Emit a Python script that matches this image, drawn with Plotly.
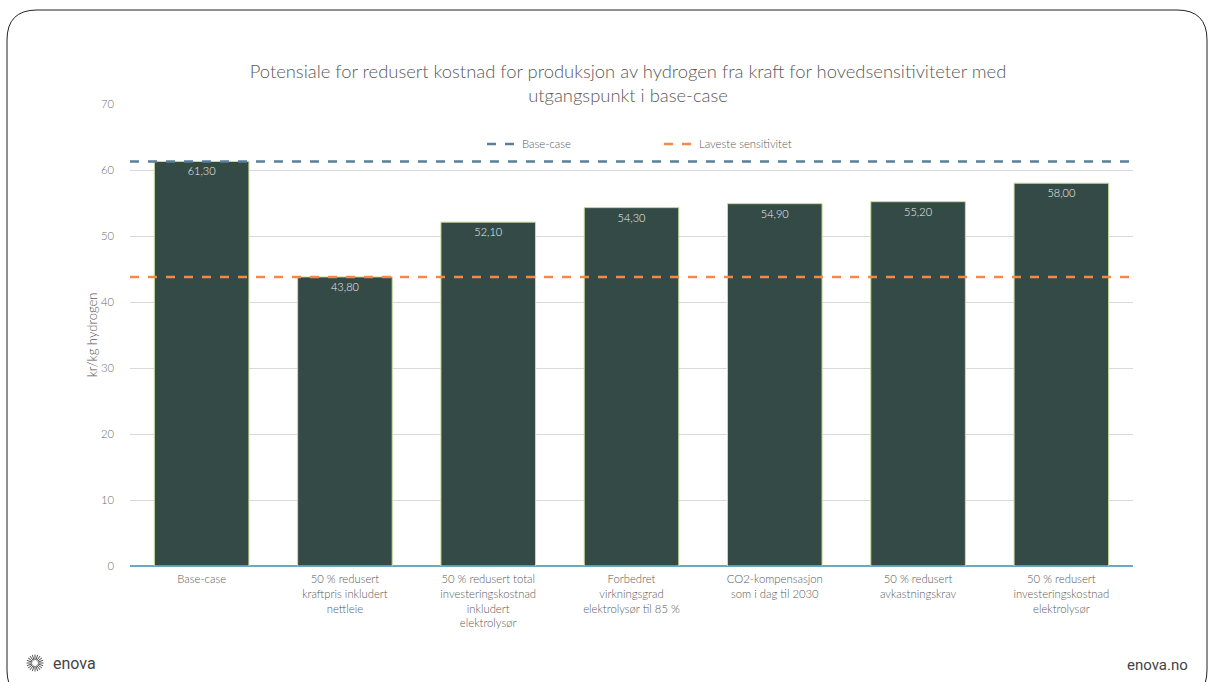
import plotly.graph_objects as go
import math

categories = [
    "Base-case",
    "50 % redusert<br>kraftpris inkludert<br>nettleie",
    "50 % redusert total<br>investeringskostnad<br>inkludert<br>elektrolysør",
    "Forbedret<br>virkningsgrad<br>elektrolysør til 85 %",
    "CO2-kompensasjon<br>som i dag til 2030",
    "50 % redusert<br>avkastningskrav",
    "50 % redusert<br>investeringskostnad<br>elektrolysør",
]
values = [61.30, 43.80, 52.10, 54.30, 54.90, 55.20, 58.00]
base_case = 61.30
lowest = 43.80
y_ticks = [0, 10, 20, 30, 40, 50, 60, 70]

W, H = 1210, 682
L, R, T, B = 130, 77, 104, 116
PW, PH = W - L - R, H - T - B

def px(x):
    return (x - L) / PW

def py(y):
    return (H - B - y) / PH

FONT = "Lato"
GRAY = "#595959"
LIGHT = 300

xs = list(range(len(categories)))
labels = [f"{v:.2f}".replace(".", ",") for v in values]

fig = go.Figure()
fig.add_trace(go.Bar(
    x=xs, y=values, text=labels, textposition="inside", insidetextanchor="end",
    textfont=dict(color="#f0f0f0", size=11, family=FONT, weight=LIGHT),
    marker=dict(color="#344a47", line=dict(color="#c5dc9a", width=1)),
    showlegend=False, hoverinfo="skip",
))
n = len(categories)
fig.add_trace(go.Scatter(
    x=[-0.5, n - 0.5], y=[base_case, base_case], mode="lines", name="Base-case",
    line=dict(color="#5a7f96", width=2.5, dash="dash"),
))
fig.add_trace(go.Scatter(
    x=[-0.5, n - 0.5], y=[lowest, lowest], mode="lines", name="Laveste sensitivitet",
    line=dict(color="#ef8a4c", width=2.5, dash="dash"),
))

# decorative frame and footer logo
shapes = []
x0, y0, x1, y1, r = 7, 10, 1207, 700, 30
path = (f"M {px(x0+r)},{py(y0)} L {px(x1-r)},{py(y0)} "
        f"Q {px(x1)},{py(y0)} {px(x1)},{py(y0+r)} L {px(x1)},{py(y1-r)} "
        f"Q {px(x1)},{py(y1)} {px(x1-r)},{py(y1)} L {px(x0+r)},{py(y1)} "
        f"Q {px(x0)},{py(y1)} {px(x0)},{py(y1-r)} L {px(x0)},{py(y0+r)} "
        f"Q {px(x0)},{py(y0)} {px(x0+r)},{py(y0)} Z")
shapes.append(dict(type="path", xref="paper", yref="paper", path=path,
                   line=dict(color="#222222", width=1), layer="below"))
cx, cy = 35, 663
for k in range(20):
    a = 2 * math.pi * k / 20
    r0, r1 = 3, 8.5
    shapes.append(dict(type="line", xref="paper", yref="paper",
                       x0=px(cx + r0 * math.cos(a)), y0=py(cy + r0 * math.sin(a)),
                       x1=px(cx + r1 * math.cos(a)), y1=py(cy + r1 * math.sin(a)),
                       line=dict(color="#555555", width=1)))

annotations = [
    dict(text="enova", xref="paper", yref="paper", x=px(51), y=py(663),
         xanchor="left", yanchor="middle", showarrow=False,
         font=dict(family="Roboto", size=16, color="#444444", weight=400)),
    dict(text="enova.no", xref="paper", yref="paper", x=px(1190), y=py(665),
         xanchor="right", yanchor="middle", showarrow=False,
         font=dict(family="Roboto", size=15, color="#444444", weight=400)),
]

fig.update_layout(
    width=W, height=H,
    margin=dict(l=L, r=R, t=T, b=B, autoexpand=False),
    paper_bgcolor="white", plot_bgcolor="white",
    font=dict(family=FONT, color=GRAY, size=11, weight=LIGHT),
    title=dict(text="Potensiale for redusert kostnad for produksjon av hydrogen fra kraft for hovedsensitiviteter med<br>utgangspunkt i base-case",
               xref="container", x=628 / W, xanchor="center", y=1 - 78 / H, yanchor="middle",
               font=dict(size=18.4, color=GRAY, family=FONT, weight=LIGHT)),
    bargap=0.34,
    xaxis=dict(tickvals=xs, ticktext=categories, range=[-0.5, n - 0.5],
               showgrid=False, zeroline=False, showline=False,
               tickfont=dict(size=11.3, color=GRAY, weight=LIGHT), ticks="", ticklabelstandoff=5),
    yaxis=dict(range=[0, 70], tickvals=y_ticks, showgrid=True, gridcolor="#d9d9d9",
               zeroline=True, zerolinecolor="#6aaabd", zerolinewidth=1.5,
               tickfont=dict(size=11.3, color="#6e6e6e", weight=LIGHT), ticks="", ticklen=0,
               ticklabelstandoff=15,
               title=dict(text="kr/kg hydrogen", font=dict(size=13, color=GRAY, weight=LIGHT), standoff=0)),
    legend=dict(orientation="h", x=px(482), xanchor="left", y=py(144), yanchor="middle",
                font=dict(size=11.3, color=GRAY, weight=LIGHT), entrywidth=132, bgcolor="rgba(0,0,0,0)"),
    shapes=shapes, annotations=annotations,
)

fig.write_html("out.html")
